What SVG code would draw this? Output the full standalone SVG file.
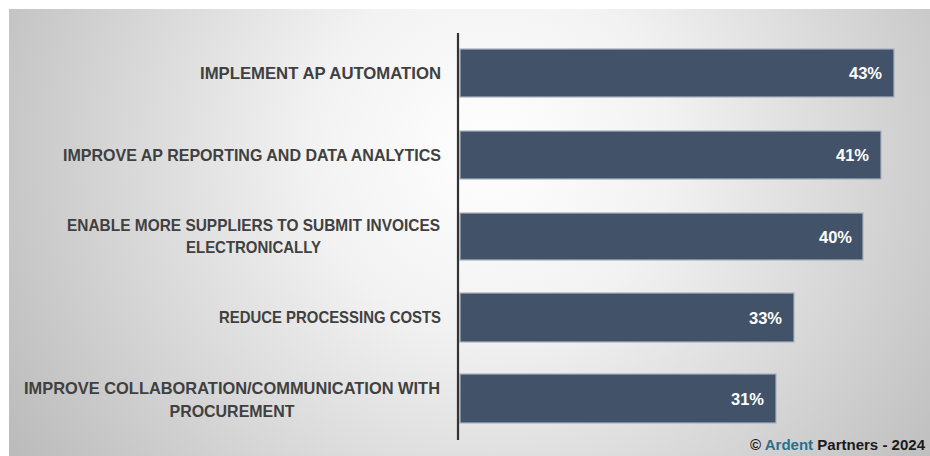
<svg xmlns="http://www.w3.org/2000/svg" width="930" height="456" viewBox="0 0 930 456">
  <defs>
    <radialGradient id="bg" gradientUnits="userSpaceOnUse" cx="490" cy="150" r="600">
      <stop offset="0" stop-color="#ffffff"/>
      <stop offset="0.3" stop-color="#f2f2f2"/>
      <stop offset="1" stop-color="#b6b6b6"/>
    </radialGradient>
  </defs>
  <style>
    .bar { fill: #425369; stroke: #a7b2c0; stroke-width: 1.2; }
    .lbl { font-family: "Liberation Sans", Arial, sans-serif; font-weight: bold; font-size: 16.5px; fill: #404040; }
    .pct { font-family: "Liberation Sans", Arial, sans-serif; font-weight: bold; font-size: 16.5px; fill: #ffffff; text-anchor: end; }
    .end { text-anchor: end; }
    .mid { text-anchor: middle; }
    .copy { font-family: "Liberation Sans", Arial, sans-serif; font-weight: bold; font-size: 15.5px; fill: #1a1a1a; text-anchor: end; }
  </style>
  <rect x="0" y="0" width="930" height="456" fill="#ffffff"/>
  <rect x="9" y="9" width="921" height="447" fill="url(#bg)"/>

  <g id="bar1">
    <rect class="bar" x="460" y="49" width="434" height="48"/>
    <text class="lbl end" x="441" y="79" textLength="241" lengthAdjust="spacingAndGlyphs">IMPLEMENT AP AUTOMATION</text>
    <text class="pct" x="882" y="79">43%</text>
  </g>
  <g id="bar2">
    <rect class="bar" x="460" y="131" width="421" height="48"/>
    <text class="lbl end" x="441" y="161" textLength="378" lengthAdjust="spacingAndGlyphs">IMPROVE AP REPORTING AND DATA ANALYTICS</text>
    <text class="pct" x="869" y="161">41%</text>
  </g>
  <g id="bar3">
    <rect class="bar" x="460" y="213" width="403" height="47"/>
    <text class="lbl mid" x="253.5" y="231" textLength="373" lengthAdjust="spacingAndGlyphs">ENABLE MORE SUPPLIERS TO SUBMIT INVOICES</text>
    <text class="lbl mid" x="253.5" y="253" textLength="135" lengthAdjust="spacingAndGlyphs">ELECTRONICALLY</text>
    <text class="pct" x="852" y="243">40%</text>
  </g>
  <g id="bar4">
    <rect class="bar" x="460" y="293" width="334" height="49"/>
    <text class="lbl end" x="441" y="323" textLength="222" lengthAdjust="spacingAndGlyphs">REDUCE PROCESSING COSTS</text>
    <text class="pct" x="782" y="324">33%</text>
  </g>
  <g id="bar5">
    <rect class="bar" x="460" y="374" width="316" height="49"/>
    <text class="lbl mid" x="232" y="394" textLength="416" lengthAdjust="spacingAndGlyphs">IMPROVE COLLABORATION/COMMUNICATION WITH</text>
    <text class="lbl mid" x="232" y="417" textLength="125" lengthAdjust="spacingAndGlyphs">PROCUREMENT</text>
    <text class="pct" x="764" y="405">31%</text>
  </g>

  <g id="connectors">
    <line x1="458" y1="33" x2="458" y2="440" stroke="#333333" stroke-width="2.2"/>
  </g>

  <g id="copyright">
    <text class="copy" x="925" y="450" textLength="175" lengthAdjust="spacingAndGlyphs">© <tspan fill="#2a6f90">Ardent</tspan> Partners - 2024</text>
  </g>
</svg>
